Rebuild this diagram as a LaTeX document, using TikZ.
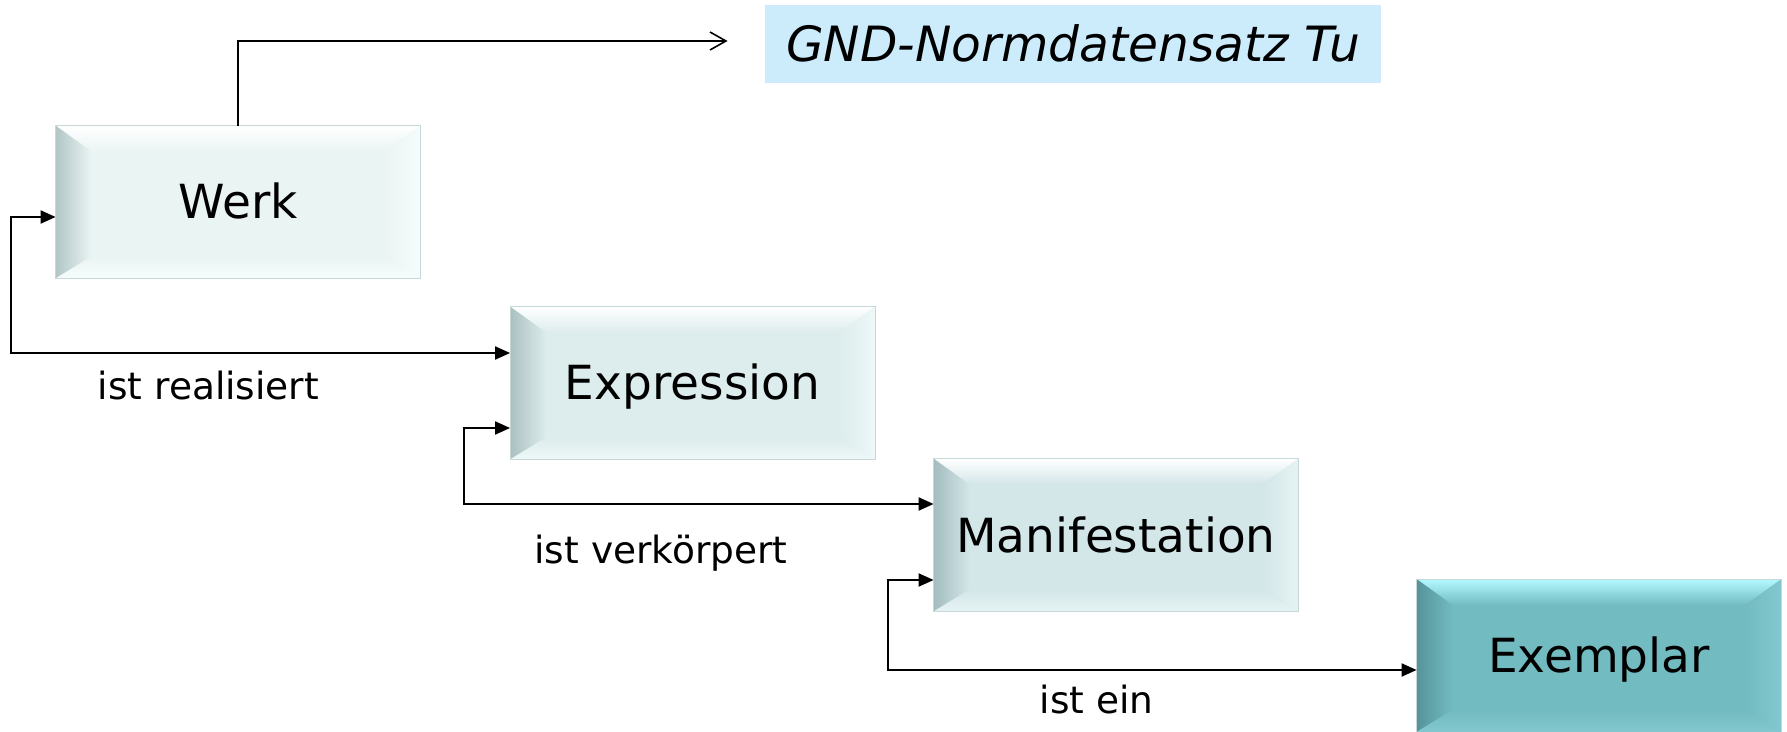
\documentclass[tikz,border=0pt]{standalone}
\usepackage{fontspec}
\setmainfont{DejaVu Sans}
\usetikzlibrary{arrows.meta,calc,backgrounds}
\definecolor{gndbg}{RGB}{204,236,252}
\definecolor{wface}{RGB}{234,244,243}
\definecolor{wdark}{RGB}{178,198,198}
\definecolor{wlight}{RGB}{246,252,252}
\definecolor{eface}{RGB}{221,236,236}
\definecolor{edark}{RGB}{170,192,192}
\definecolor{elight}{RGB}{238,248,248}
\definecolor{mface}{RGB}{211,230,232}
\definecolor{mdark}{RGB}{163,188,190}
\definecolor{mlight}{RGB}{230,243,244}
\definecolor{xface}{RGB}{114,187,193}
\definecolor{xdark}{RGB}{84,148,154}
\definecolor{xlight}{RGB}{130,200,206}
\definecolor{xtop}{RGB}{178,250,255}
\definecolor{edge}{RGB}{200,215,215}
\newcommand{\bevelbox}[5]{%
  \fill[#2] (#1.north west) rectangle (#1.south east);
  \shade[top color=#5, bottom color=#2] (#1.north west) -- (#1.north east) -- ($(#1.north east)+(-36,26)$) -- ($(#1.north west)+(36,26)$) -- cycle;
  \shade[left color=#3, right color=#2] (#1.north west) -- ($(#1.north west)+(36,26)$) -- ($(#1.south west)+(36,-22)$) -- (#1.south west) -- cycle;
  \shade[left color=#2, right color=#4] (#1.north east) -- ($(#1.north east)+(-36,26)$) -- ($(#1.south east)+(-36,-22)$) -- (#1.south east) -- cycle;
  \shade[top color=#2, bottom color=#4] (#1.south west) -- ($(#1.south west)+(36,-22)$) -- ($(#1.south east)+(-36,-22)$) -- (#1.south east) -- cycle;
  \draw[edge, line width=0.4pt] (#1.north west) rectangle (#1.south east);
}
\begin{document}
\begin{tikzpicture}[x=0.5pt,y=-0.5pt,
  box/.style={minimum width=182pt, minimum height=76pt, inner sep=0pt, text height=17pt, text depth=0pt, font=\fontsize{23.5}{28}\selectfont},
  lbl/.style={anchor=base, inner sep=0pt, font=\fontsize{18.75}{22}\selectfont},
  conn/.style={line width=1pt, {Triangle[length=7.5pt,width=6.5pt]}-{Triangle[length=7.5pt,width=6.5pt]}},
  gndarrow/.style={line width=0.8pt, -{Straight Barb[length=8pt,width=9pt]}}]
\useasboundingbox (0,0) rectangle (1787,732);
\node[fill=gndbg, minimum width=308pt, minimum height=39pt, inner sep=0pt, text height=17.5pt, text depth=0pt,
      font=\fontsize{24.3}{29}\selectfont\itshape] (gnd) at (1073,44) {GND-Normdatensatz Tu};
\node[box] (werk) at (238,202) {Werk};
\node[box] (expr) at (692.5,383) {Expression};
\node[box] (manif) at (1116,535) {Manifestation};
\node[box] (exem) at (1599,655.5) {Exemplar};
\begin{scope}[on background layer]
  \bevelbox{werk}{wface}{wdark}{wlight}{white}
  \bevelbox{expr}{eface}{edark}{elight}{white}
  \bevelbox{manif}{mface}{mdark}{mlight}{white}
  \bevelbox{exem}{xface}{xdark}{xlight}{xtop}
\end{scope}
\draw[gndarrow] (werk.north) |- ([xshift=-18.5pt,yshift=1.5pt]gnd.west);
\draw[conn] ([yshift=-7.5pt]werk.west) -- ++(-44.5,0) |- ([yshift=15pt]expr.west);
\draw[conn] ([yshift=-22.5pt]expr.west) -- ++(-46,0) |- ([yshift=15.5pt]manif.west);
\draw[conn] ([yshift=-22.5pt]manif.west) -- ++(-46,0) |- ([yshift=-7.25pt]exem.west);
\node[lbl] (l1) at (208.5,400) {ist realisiert};
\node[lbl] (l2) at (661,563) {ist verkörpert};
\node[lbl] (l3) at (1096.5,713) {ist ein};
\end{tikzpicture}
\end{document}
